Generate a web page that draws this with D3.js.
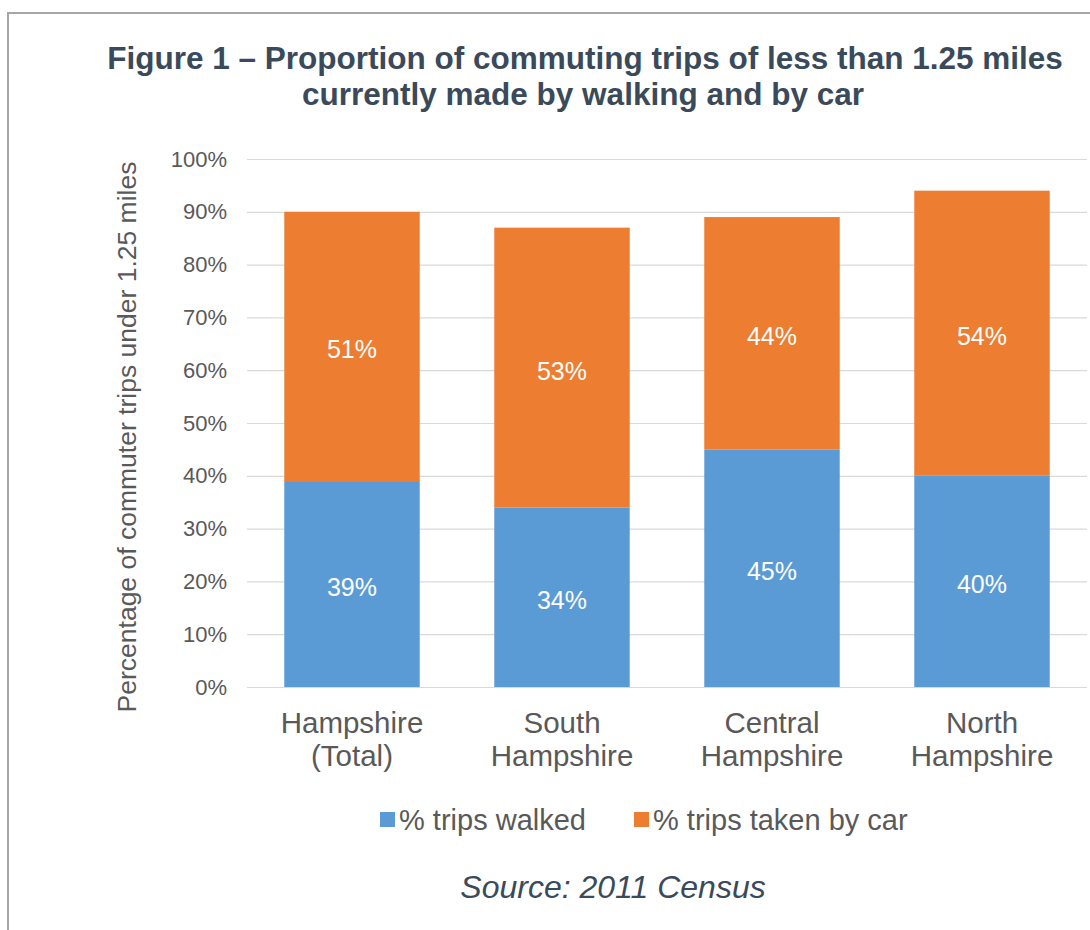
<!DOCTYPE html>
<html>
<head>
<meta charset="utf-8">
<script src="https://cdn.jsdelivr.net/npm/d3@7"></script>
<style>
  html, body { margin: 0; padding: 0; background: #fff; }
  svg { display: block; font-family: "Liberation Sans", Arial, sans-serif; }
</style>
</head>
<body>
<svg id="chart" width="1090" height="930"></svg>
<script>
// Areas of Hampshire
const regions = [["Hampshire", "(Total)"], ["South", "Hampshire"], ["Central", "Hampshire"], ["North", "Hampshire"]];
// Share of commuter trips under 1.25 miles, percent
const walked = [39, 34, 45, 40];
const byCar = [51, 53, 44, 54];
const seriesNames = ["% trips walked", "% trips taken by car"];
const yTicks = [0, 10, 20, 30, 40, 50, 60, 70, 80, 90, 100];

const colors = ["#5b9bd5", "#ed7d31"];
const svg = d3.select("#chart");

// frame around the figure
svg.append("path")
  .attr("d", "M8,930 V13 H1090")
  .attr("fill", "none")
  .attr("stroke", "#a6a6a6")
  .attr("stroke-width", 2);

// title
const title = svg.append("text")
  .attr("text-anchor", "middle")
  .attr("fill", "#3a4a5b")
  .attr("font-weight", "bold")
  .attr("font-size", 31.5);
title.append("tspan").attr("x", 585).attr("y", 69).text("Figure 1 \u2013 Proportion of commuting trips of less than 1.25 miles");
title.append("tspan").attr("x", 583).attr("y", 105).text("currently made by walking and by car");

const x = d3.scaleBand()
  .domain(d3.range(regions.length))
  .range([247, 1087])
  .paddingInner(0.355)
  .paddingOuter(0.1775);

const y = d3.scaleLinear().domain([0, 100]).range([687, 159]);

// gridlines and tick labels
const yAxis = d3.axisLeft(y)
  .tickValues(yTicks)
  .tickFormat(d => d + "%")
  .tickSize(-(1087 - 247))
  .tickPadding(20);
const gy = svg.append("g").attr("transform", "translate(247,0)").call(yAxis);
gy.select(".domain").remove();
gy.selectAll(".tick line").attr("stroke", "#d9d9d9").attr("stroke-width", 1.2);
gy.selectAll(".tick text")
  .attr("fill", "#595959")
  .attr("font-size", 22)
  .attr("font-family", "Liberation Sans, Arial, sans-serif");

// axis title
svg.append("text")
  .attr("transform", "translate(136,437) rotate(-90)")
  .attr("text-anchor", "middle")
  .attr("fill", "#595959")
  .attr("font-size", 26.5)
  .text("Percentage of commuter trips under 1.25 miles");

// stacked bars
const stackRows = regions.map((r, i) => ({ i, walked: walked[i], car: byCar[i] }));
const stacked = d3.stack().keys(["walked", "car"])(stackRows);

const layers = svg.append("g").selectAll("g")
  .data(stacked)
  .join("g")
  .attr("fill", (d, k) => colors[k]);

layers.selectAll("rect")
  .data(d => d)
  .join("rect")
  .attr("x", d => x(d.data.i))
  .attr("width", x.bandwidth())
  .attr("y", d => y(d[1]))
  .attr("height", d => y(d[0]) - y(d[1]));

// value labels centred in each segment
layers.selectAll("text")
  .data(d => d.map(v => ({ v, val: v[1] - v[0] })))
  .join("text")
  .attr("x", d => x(d.v.data.i) + x.bandwidth() / 2)
  .attr("y", d => y((d.v[0] + d.v[1]) / 2) + 12)
  .attr("text-anchor", "middle")
  .attr("fill", "#ffffff")
  .attr("font-size", 25)
  .text(d => d.val + "%");

// category labels
const xl = svg.append("g").selectAll("text")
  .data(regions)
  .join("text")
  .attr("text-anchor", "middle")
  .attr("fill", "#595959")
  .attr("font-size", 29.5);
xl.append("tspan")
  .attr("x", (d, i) => x(i) + x.bandwidth() / 2)
  .attr("y", 733)
  .text(d => d[0]);
xl.append("tspan")
  .attr("x", (d, i) => x(i) + x.bandwidth() / 2)
  .attr("y", 766)
  .text(d => d[1]);

// legend
const legendX = [380, 634];
const lg = svg.append("g").selectAll("g")
  .data(seriesNames)
  .join("g")
  .attr("transform", (d, i) => `translate(${legendX[i]},812)`);
lg.append("rect")
  .attr("width", 15).attr("height", 15)
  .attr("fill", (d, i) => colors[i]);
lg.append("text")
  .attr("x", 19)
  .attr("y", 18)
  .attr("fill", "#595959")
  .attr("font-size", 29)
  .text(d => d);

// source note
svg.append("text")
  .attr("x", 613)
  .attr("y", 898)
  .attr("text-anchor", "middle")
  .attr("fill", "#3a4a5b")
  .attr("font-style", "italic")
  .attr("font-size", 32)
  .text("Source: 2011 Census");
</script>
</body>
</html>
